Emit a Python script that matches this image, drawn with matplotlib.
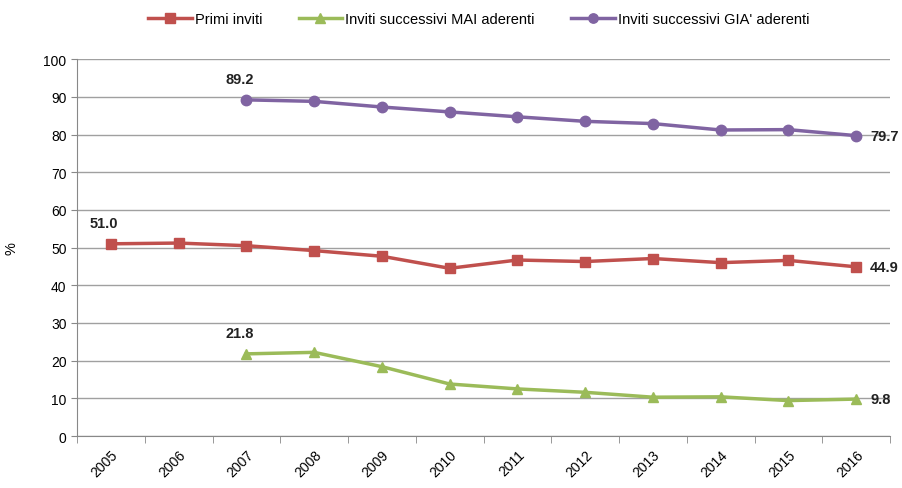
import matplotlib
matplotlib.use("Agg")
import matplotlib.pyplot as plt

anni = ["2005", "2006", "2007", "2008", "2009", "2010",
        "2011", "2012", "2013", "2014", "2015", "2016"]
primi_inviti = [51.0, 51.2, 50.5, 49.2, 47.7, 44.5, 46.7, 46.3, 47.1, 46.0, 46.6, 44.9]
mai_aderenti = [None, None, 21.8, 22.2, 18.4, 13.8, 12.5, 11.6, 10.3, 10.4, 9.4, 9.8]
gia_aderenti = [None, None, 89.2, 88.8, 87.3, 86.0, 84.7, 83.5, 82.9, 81.2, 81.3, 79.7]

rosso = "#C0504D"
verde = "#9BBB59"
viola = "#8064A2"

plt.rcParams["font.family"] = ["Liberation Sans", "DejaVu Sans"]

fig = plt.figure(figsize=(9.03, 4.89), dpi=100)
ax = fig.add_axes([0.0853, 0.1063, 0.9003, 0.7707])

x = list(range(len(anni)))

def serie(vals):
    xs = [i for i, v in zip(x, vals) if v is not None]
    ys = [v for v in vals if v is not None]
    return xs, ys

xs, ys = serie(primi_inviti)
ax.plot(xs, ys, color=rosso, lw=2.5, marker="s", ms=7.5, label="Primi inviti", zorder=3)
xs_m, ys_m = serie(mai_aderenti)
ax.plot(xs_m, ys_m, color=verde, lw=2.5, marker="^", ms=7.5, label="Inviti successivi MAI aderenti", zorder=3)
xs_g, ys_g = serie(gia_aderenti)
ax.plot(xs_g, ys_g, color=viola, lw=2.5, marker="o", ms=7.5, label="Inviti successivi GIA' aderenti", zorder=3)

# etichette dati: primo e ultimo valore
for xx, yy in [(xs[0], ys[0]), (xs_m[0], ys_m[0]), (xs_g[0], ys_g[0])]:
    ax.annotate(f"{yy:.1f}", (xx, yy), xytext=(-5, 10), textcoords="offset points",
                ha="center", va="bottom", fontsize=10.5, fontweight="bold", color="#222222")
for xx, yy in [(xs[-1], ys[-1]), (xs_m[-1], ys_m[-1]), (xs_g[-1], ys_g[-1])]:
    ax.annotate(f"{yy:.1f}", (xx, yy), xytext=(10, 0), textcoords="offset points",
                ha="left", va="center", fontsize=10.5, fontweight="bold", color="#222222",
                annotation_clip=False)

ax.set_xlim(-0.5, len(anni) - 0.5)
ax.set_ylim(0, 100)
ax.set_yticks(range(0, 101, 10))
ax.set_xticks(x)
ax.set_xticklabels(anni, rotation=45, ha="right", rotation_mode="anchor", fontsize=10)
ax.set_xticks([i - 0.5 for i in range(len(anni) + 1)], minor=True)
ax.tick_params(axis="x", which="major", length=0, pad=8)
ax.tick_params(axis="x", which="minor", length=5, color="#888888")
ax.tick_params(axis="y", length=4, color="#888888", labelsize=10)
ax.set_ylabel("%", fontsize=10.5, labelpad=18)

ax.grid(axis="y", color="#A0A0A0", lw=1)
ax.set_axisbelow(True)
for s in ["top", "right"]:
    ax.spines[s].set_visible(False)
for s in ["left", "bottom"]:
    ax.spines[s].set_color("#888888")

fig.legend(loc="upper center", bbox_to_anchor=(0.53, 1.0), ncol=3, frameon=False,
           fontsize=10.5, handlelength=3, handletextpad=0.2, columnspacing=2.5, markerscale=0.9)

fig.savefig("out.png", dpi=100)
